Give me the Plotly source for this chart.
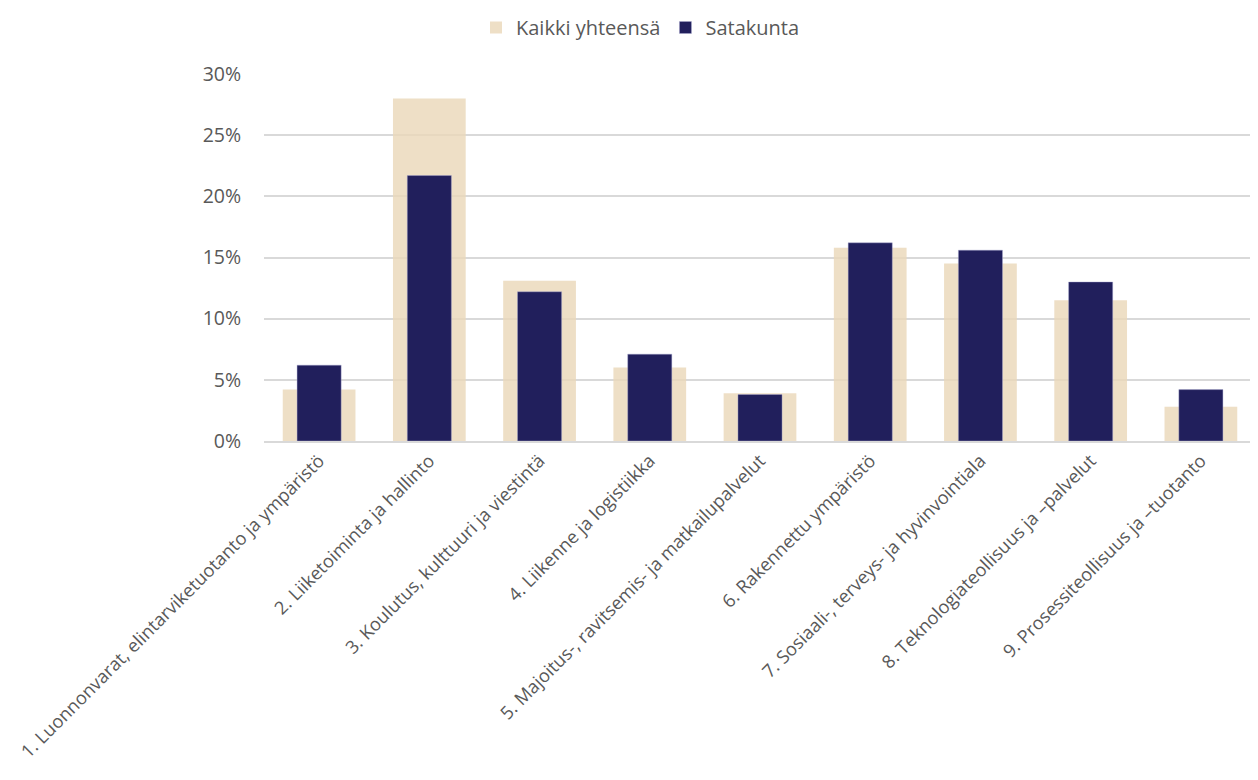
import plotly.graph_objects as go

categories = [
    "1. Luonnonvarat, elintarviketuotanto ja ympäristö",
    "2. Liiketoiminta ja hallinto",
    "3. Koulutus, kulttuuri ja viestintä",
    "4. Liikenne ja logistiikka",
    "5. Majoitus-, ravitsemis- ja matkailupalvelut",
    "6. Rakennettu ympäristö",
    "7. Sosiaali-, terveys- ja hyvinvointiala",
    "8. Teknologiateollisuus ja \u2013palvelut",
    "9. Prosessiteollisuus ja \u2013tuotanto",
]
kaikki = [0.042, 0.280, 0.131, 0.060, 0.039, 0.158, 0.145, 0.115, 0.028]
satakunta = [0.062, 0.217, 0.122, 0.071, 0.038, 0.162, 0.156, 0.130, 0.042]
series_names = ["Kaikki yhteensä", "Satakunta"]
y_ticks = [0, 0.05, 0.10, 0.15, 0.20, 0.25, 0.30]
y_tick_labels = ["0%", "5%", "10%", "15%", "20%", "25%", "30%"]

FONT = "Open Sans"
TXT = "#595959"

fig = go.Figure()
fig.add_trace(go.Bar(
    x=categories, y=kaikki, name=series_names[0], width=0.66,
    marker=dict(color="rgba(234,216,186,0.82)", line=dict(width=0)),
))
fig.add_trace(go.Bar(
    x=categories, y=satakunta, name=series_names[1], width=0.4,
    marker=dict(color="#211F5C", line=dict(width=0.6, color="rgba(170,170,210,0.7)")),
))

fig.update_layout(
    width=1250, height=772,
    barmode="overlay",
    plot_bgcolor="white", paper_bgcolor="white",
    margin=dict(l=256, r=2, t=66, b=339),
    font=dict(family=FONT, color=TXT),
    legend=dict(
        orientation="h", x=0.506, xref="container", xanchor="center",
        y=1.0, yref="container", yanchor="top",
        font=dict(size=20, color=TXT, family=FONT),
        traceorder="normal", itemwidth=30,
    ),
    xaxis=dict(
        tickangle=-45, tickfont=dict(size=18.2, color=TXT, family=FONT),
        showgrid=False, showline=True, linecolor="#d9d9d9", linewidth=2,
        ticks="", automargin=False,
    ),
    yaxis=dict(
        range=[0, 0.30], tickvals=y_ticks, ticktext=y_tick_labels,
        tickfont=dict(size=19.5, color=TXT, family=FONT),
        showgrid=True, gridcolor="#d9d9d9", gridwidth=2,
        zeroline=False, showline=False, ticks="outside", ticklen=18,
        tickcolor="white", automargin=False,
    ),
)

fig.write_html("out.html")
